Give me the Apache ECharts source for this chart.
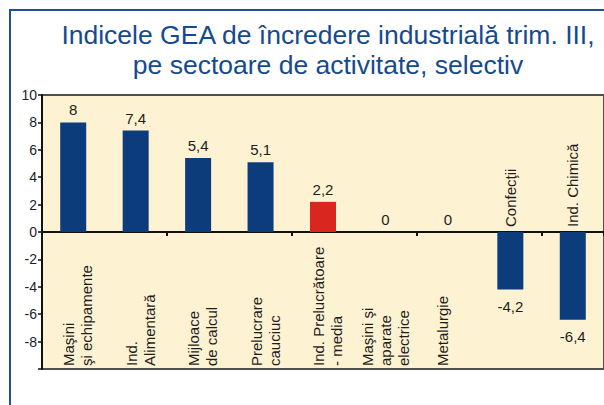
<!DOCTYPE html>
<html>
<head>
<meta charset="utf-8">
<script src="https://cdn.jsdelivr.net/npm/echarts@6/dist/echarts.min.js"></script>
<style>
html,body{margin:0;padding:0;background:#ffffff;}
#chart{width:604px;height:405px;}
</style>
</head>
<body>
<div id="chart"></div>
<script>
// ---- data ----
const titleLines = ['Indicele GEA de încredere industrială trim. III,', 'pe sectoare de activitate, selectiv'];
const categories = ['Maşini\nşi echipamente', 'Ind.\nAlimentară', 'Mijloace\nde calcul', 'Prelucrare\ncauciuc', 'Ind. Prelucrătoare\n- media', 'Maşini şi\naparate\nelectrice', 'Metalurgie', 'Confecţii', 'Ind. Chimică'];
const values = [8, 7.4, 5.4, 5.1, 2.2, 0, 0, -4.2, -6.4];
const highlightIndex = 4;
const yMin = -10, yMax = 10, yStep = 2;
const hiddenYTicks = [-10];

const FONT = "Liberation Sans, Arial, sans-serif";
const NAVY = '#0d3c7c';
const RED = '#d9261e';
const TXT = '#1e1e1e';

const chart = echarts.init(document.getElementById('chart'), null, {renderer: 'svg'});

// rotated category label: spacer lines nudge the block sideways like the original layout
function wrapLabel(name) {
  const lines = name.split('\n');
  const body = lines.map(l => '{t|' + l + '}').join('\n');
  if (lines.length === 2) return '{sp9| }\n' + body;
  if (lines.length === 1) return body + '\n{sp11| }';
  return body;
}

const barData = values.map((v, i) => ({
  value: v,
  itemStyle: {color: i === highlightIndex ? RED : NAVY},
  label: {position: v < 0 ? 'bottom' : 'top', distance: v < 0 ? 9 : 5}
}));

// category names drawn above the zero line for negative bars
const nameAboveData = values.map(v => (v < 0 ? 0 : '-'));

const option = {
  animation: false,
  backgroundColor: '#ffffff',
  graphic: [
    {type: 'rect', z: 100, silent: true, shape: {x: 10, y: 10, width: 700, height: 500},
     style: {fill: 'none', stroke: '#1f4f9a', lineWidth: 2}},
    {type: 'text', z: 100, silent: true,
     style: {x: 328, y: 19.5, text: titleLines.join('\n'), textAlign: 'center', textVerticalAlign: 'top',
             fontSize: 26.5, lineHeight: 30, fontFamily: FONT, fill: '#164a8e'}}
  ],
  grid: {left: 42, top: 95, width: 565, height: 274, show: true,
         backgroundColor: '#fdf2d1', borderColor: '#4f4f4f', borderWidth: 2},
  xAxis: [
    {type: 'category', data: categories, position: 'bottom',
     axisLine: {onZero: true, lineStyle: {color: '#111', width: 2}},
     axisTick: {show: true, length: 4, lineStyle: {color: '#111', width: 2}},
     axisLabel: {show: false}},
    {type: 'category', data: categories, position: 'bottom',
     axisLine: {onZero: false, show: false},
     axisTick: {show: false},
     axisLabel: {inside: true, rotate: 90, interval: 0, margin: 3, fontSize: 15, lineHeight: 18,
                 fontFamily: FONT, color: TXT,
                 formatter: (v, i) => values[i] < 0 ? '' : wrapLabel(v),
                 rich: {
                   t: {fontSize: 15, lineHeight: 18, fontFamily: FONT, color: TXT},
                   sp9: {fontSize: 1, lineHeight: 9},
                   sp11: {fontSize: 1, lineHeight: 11}
                 }}}
  ],
  yAxis: {
    type: 'value', min: yMin, max: yMax, interval: yStep,
    splitLine: {show: false},
    axisLine: {show: true, lineStyle: {color: '#111', width: 2}},
    axisTick: {show: true, length: 4, lineStyle: {color: '#111', width: 1.5}},
    axisLabel: {fontSize: 14, fontFamily: FONT, color: TXT, margin: 5,
                formatter: v => hiddenYTicks.indexOf(v) >= 0 ? '' : String(v)}
  },
  series: [
    {
      type: 'bar', xAxisIndex: 0, yAxisIndex: 0, data: barData, barWidth: 26, barGap: '-100%',
      label: {show: true, fontSize: 15, fontFamily: FONT, color: TXT,
              formatter: p => String(p.value).replace('.', ',')}
    },
    {
      type: 'bar', xAxisIndex: 0, yAxisIndex: 0, data: nameAboveData, barWidth: 26, barGap: '-100%',
      itemStyle: {color: 'rgba(0,0,0,0)'}, silent: true,
      label: {show: true, position: 'top', distance: 5, rotate: 90, align: 'left', verticalAlign: 'middle',
              fontSize: 15, fontFamily: FONT, color: TXT, formatter: p => p.name}
    }
  ]
};
chart.setOption(option);
</script>
</body>
</html>
